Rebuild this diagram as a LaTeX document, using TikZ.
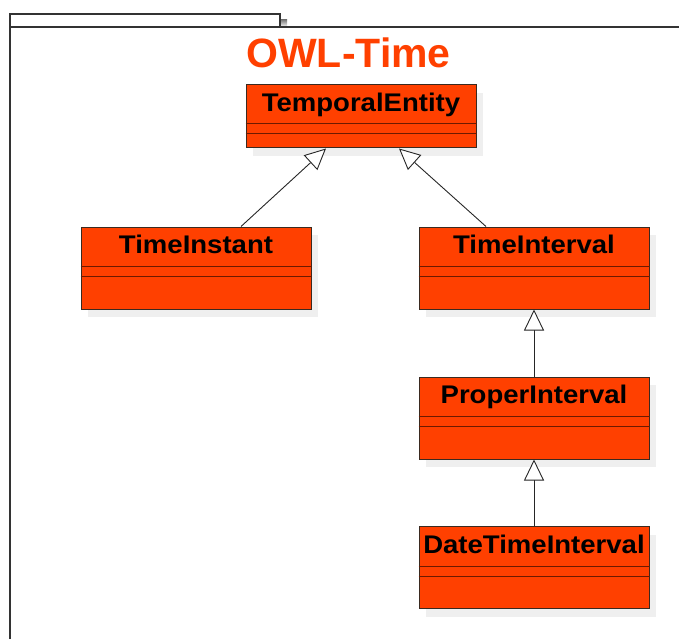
\documentclass[tikz,border=0pt]{standalone}
\usepackage{fontspec}
\setmainfont{Liberation Sans}
\newfontfamily\clsfont[FakeStretch=1.08]{Liberation Sans}
\usetikzlibrary{arrows.meta,calc,shadows}
\definecolor{owl}{HTML}{FF4000}
\definecolor{edge}{HTML}{3A2A20}
\definecolor{divi}{HTML}{6E1A00}
\definecolor{shade}{HTML}{EFEFEF}
\begin{document}
\begin{tikzpicture}[x=1pt,y=-1pt,
  classbox/.style={draw=edge,line width=1pt,fill=owl,minimum width=230pt,minimum height=82pt,inner sep=0pt,
    general shadow={shadow xshift=7pt,shadow yshift=-8pt,fill=shade}},
  topbox/.style={classbox,minimum height=63pt},
  cname/.style={font=\clsfont\bfseries\fontsize{25.5}{30}\selectfont,inner sep=0pt,anchor=base},
  divider/.style={draw=divi,line width=1pt},
  gen/.style={draw=black!85,line width=0.9pt,-{Triangle[fill=white,length=21pt,width=20pt,line width=0.9pt]}},
  frame/.style={draw=black!80,line width=1.2pt}]
\useasboundingbox (0,0) rectangle (679,639);
% package frame
\fill[shade] (280.5,20) rectangle (287,27);
\draw[frame] (10,639) -- (10,27) -- (679,27);
\draw[frame] (10,27) -- (10,14) -- (280,14) -- (280,27);
\node[font=\bfseries\fontsize{41}{46}\selectfont,text=owl,inner sep=0pt,anchor=base] (title) at (348.5,67.3) {OWL-Time};
% classes
\node[topbox] (te) at (361,116.5) {};
\node[classbox] (ti) at (196,268) {};
\node[classbox] (tv) at (534,268) {};
\node[classbox] (pi) at (534,418) {};
\node[classbox] (dt) at (534,567.5) {};
% names
\node[cname] (te-n) at ($(te.north)+(0,26.7)$) {TemporalEntity};
\node[cname] (ti-n) at ($(ti.north)+(0,27.3)$) {TimeInstant};
\node[cname] (tv-n) at ($(tv.north)+(0,27.3)$) {TimeInterval};
\node[cname] (pi-n) at ($(pi.north)+(0,27.3)$) {ProperInterval};
\node[cname] (dt-n) at ($(dt.north)+(0,27.3)$) {DateTimeInterval};
% dividers
\foreach \n/\a/\b in {te/39/49, ti/40/49.5, tv/40/49.5, pi/40/49.5, dt/40/50}{
  \draw[divider] ($(\n.north west)+(0,\a)$) -- ($(\n.north east)+(0,\a)$);
  \draw[divider] ($(\n.north west)+(0,\b)$) -- ($(\n.north east)+(0,\b)$);
}
% generalizations
\draw[gen] ($(ti.north)+(45,0)$) -- ($(te.south)+(-35,0)$);
\draw[gen] ($(tv.north)+(-48,0)$) -- ($(te.south)+(38,0)$);
\draw[gen] (pi.north) -- (tv.south);
\draw[gen] (dt.north) -- (pi.south);
\end{tikzpicture}
\end{document}
